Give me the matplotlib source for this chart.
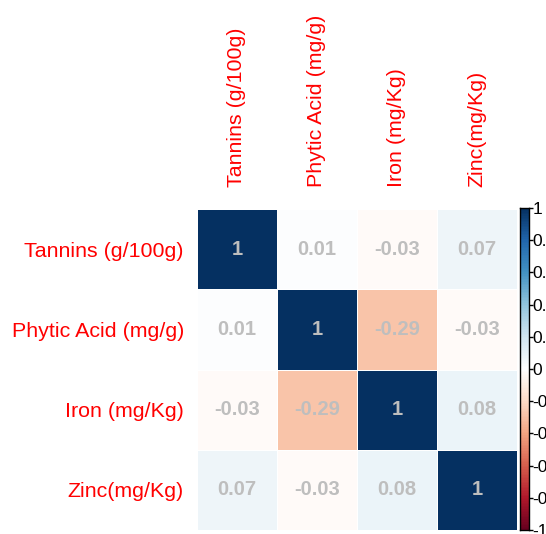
import numpy as np
import matplotlib

matplotlib.use("Agg")
import matplotlib.pyplot as plt
from matplotlib.colors import LinearSegmentedColormap

plt.rcParams["font.family"] = ["Liberation Sans", "DejaVu Sans"]

############### DATA ################
variables = ["Tannins (g/100g)", "Phytic Acid (mg/g)", "Iron (mg/Kg)", "Zinc(mg/Kg)"]

tannins = [1, 0.01, -0.03, 0.07]
phytic = [0.01, 1, -0.29, -0.03]
iron = [-0.03, -0.29, 1, 0.08]
zinc = [0.07, -0.03, 0.08, 1]

corr = np.array([tannins, phytic, iron, zinc])

cbar_ticks = [1, 0.8, 0.6, 0.4, 0.2, 0, -0.2, -0.4, -0.6, -0.8, -1]

# RdBu palette, same as corrplot's default
rdbu = ["#67001F", "#B2182B", "#D6604D", "#F4A582", "#FDDBC7", "#FFFFFF",
        "#D1E5F0", "#92C5DE", "#4393C3", "#2166AC", "#053061"]
cmap = LinearSegmentedColormap.from_list("rdbu", rdbu, N=200)

############### PLOT ################
W, H = 546, 534
fig = plt.figure(figsize=(W / 100, H / 100), dpi=100)

# heatmap area in pixels: x 197..517, y 209..530
ax = fig.add_axes([197 / W, (H - 530) / H, 320 / W, 321 / H])
n = len(variables)
ax.pcolormesh(np.arange(n + 1), np.arange(n + 1), corr, cmap=cmap,
              vmin=-1, vmax=1, edgecolor="white", linewidth=0.6)
ax.set_xlim(0, n)
ax.set_ylim(n, 0)

for i in range(n):
    for j in range(n):
        v = corr[i, j]
        txt = "1" if v == 1 else f"{v:.2f}"
        ax.text(j + 0.5, i + 0.5, txt, ha="center", va="center",
                color="#BEBEBE", fontsize=14.5, fontweight="bold")

ax.set_xticks(np.arange(n) + 0.5)
ax.set_yticks(np.arange(n) + 0.5)
ax.set_xticklabels(variables, rotation=90, color="red", fontsize=15.4)
ax.set_yticklabels(variables, color="red", fontsize=15.4)
ax.xaxis.tick_top()
ax.tick_params(axis="x", length=0, pad=16)
ax.tick_params(axis="y", length=0, pad=9.4)
for s in ax.spines.values():
    s.set_visible(False)

#### colorbar
cax = fig.add_axes([520 / W, (H - 530) / H, 9 / W, 322 / H])
grad = np.linspace(-1, 1, 200).reshape(-1, 1)
cax.pcolormesh([0, 1], np.linspace(-1, 1, 201), grad, cmap=cmap, vmin=-1, vmax=1)
cax.set_xlim(0, 1)
cax.set_ylim(-1, 1)
cax.set_xticks([])
cax.yaxis.tick_right()
cax.set_yticks(cbar_ticks)
cax.set_yticklabels([f"{t:g}" for t in cbar_ticks], fontsize=12.5)
cax.tick_params(axis="y", length=3, width=1, pad=-0.5)
for s in cax.spines.values():
    s.set_linewidth(1)

fig.savefig("out.png", dpi=100)
